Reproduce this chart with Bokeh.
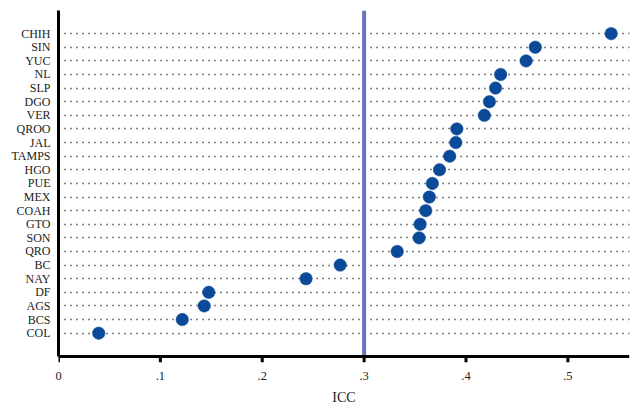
from bokeh.plotting import figure
from bokeh.models import Range1d, FixedTicker, ColumnDataSource
from bokeh.embed import file_html
from bokeh.resources import INLINE

states = ["CHIH", "SIN", "YUC", "NL", "SLP", "DGO", "VER", "QROO", "JAL", "TAMPS",
          "HGO", "PUE", "MEX", "COAH", "GTO", "SON", "QRO", "BC", "NAY", "DF",
          "AGS", "BCS", "COL"]
icc = [0.5425, 0.468, 0.459, 0.434, 0.429, 0.423, 0.418, 0.391, 0.390, 0.384,
       0.374, 0.367, 0.364, 0.3605, 0.355, 0.354, 0.3325, 0.2765, 0.243, 0.1475,
       0.143, 0.1215, 0.0395]
x_ticks = [0, 0.1, 0.2, 0.3, 0.4, 0.5]
x_tick_labels = ["0", ".1", ".2", ".3", ".4", ".5"]
x_title = "ICC"
reference_icc = [0.3]

FONT = "Liberation Serif"

n = len(states)
rank = [n - i for i in range(n)]  # CHIH on top, COL at the bottom
src = ColumnDataSource(dict(state=states, icc=icc, rank=rank))

# y layout (in row units): axis line sits 1.69 rows below the last row,
# the frame extends a little further so the outward ticks fit inside it
y_top = n + 1.7
y_axis = 1 - 1.69
y_bottom = y_axis - 0.61
tick_len = 0.44

p = figure(width=643, height=409, output_backend="svg", toolbar_location=None,
           y_range=Range1d(y_bottom, y_top),
           x_range=Range1d(0, 0.5605),
           min_border_left=58, min_border_right=14, min_border_top=10,
           min_border_bottom=45)

p.outline_line_color = None
p.background_fill_color = "white"
p.border_fill_color = "white"

p.xgrid.visible = False
p.ygrid.grid_line_color = "black"
p.ygrid.grid_line_dash = "1 5"
p.ygrid.grid_line_width = 1.6

# reference line at ICC = .3
p.segment(x0=reference_icc, x1=reference_icc, y0=[y_axis], y1=[y_top],
          line_color="#6674BC", line_width=4)

p.scatter(x="icc", y="rank", source=src, size=12.5, fill_color="#0B4A98",
          line_color="#0B4A98", line_width=0.5)

# x axis rule and outward ticks
p.hspan(y=[y_axis], line_color="black", line_width=3)
p.segment(x0=x_ticks, x1=x_ticks, y0=[y_axis] * len(x_ticks),
          y1=[y_axis - tick_len] * len(x_ticks), line_color="black",
          line_width=3)

xa = p.xaxis[0]
xa.ticker = FixedTicker(ticks=x_ticks, minor_ticks=[])
xa.major_label_overrides = {t: l for t, l in zip(x_ticks, x_tick_labels)}
xa.axis_label = x_title
xa.axis_line_color = None
xa.major_tick_line_color = None
xa.major_tick_out = 0
xa.major_tick_in = 0
xa.minor_tick_line_color = None
xa.major_label_text_font = FONT
xa.major_label_text_font_size = "12.5px"
xa.major_label_text_color = "#222222"
xa.major_label_standoff = 7
xa.axis_label_text_font = FONT
xa.axis_label_text_font_size = "14px"
xa.axis_label_text_font_style = "normal"
xa.axis_label_text_color = "#222222"
xa.axis_label_standoff = 7

ya = p.yaxis[0]
ya.ticker = FixedTicker(ticks=rank, minor_ticks=[])
ya.major_label_overrides = {r: s for r, s in zip(rank, states)}
ya.bounds = (y_axis, y_top)
ya.axis_line_width = 3
ya.axis_line_color = "black"
ya.major_tick_line_color = None
ya.major_tick_out = 0
ya.major_tick_in = 0
ya.minor_tick_line_color = None
ya.major_label_text_font = FONT
ya.major_label_text_font_size = "12px"
ya.major_label_text_color = "#222222"
ya.major_label_standoff = 8

open("out.html", "w").write(file_html(p, INLINE))
